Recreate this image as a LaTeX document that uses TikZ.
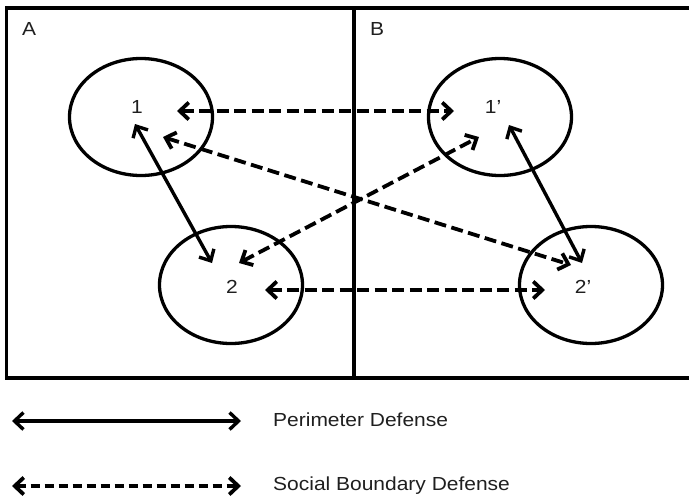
\documentclass[tikz,border=0pt]{standalone}
\usepackage{fontspec}
\usepackage{graphicx}
\setmainfont{Liberation Sans}
\usetikzlibrary{arrows.meta,shapes.geometric}
\newcommand{\wlabel}[1]{\scalebox{1.11}[1]{\fontsize{18.9}{20}\selectfont #1}}
\tikzset{
  frameline/.style={line width=3.3pt, line cap=rect},
  region/.style={ellipse, draw, line width=3.3pt, minimum width=143pt, minimum height=117pt, inner sep=0pt},
  txt/.style={inner sep=0pt, text=black!88},
  barb/.style={Straight Barb[length=9pt,width=17pt]},
  perim/.style={line width=3.4pt, {Straight Barb[length=9pt,width=17pt]}-{Straight Barb[length=9pt,width=17pt]}},
  social/.style={line width=3.8pt, dash pattern=on 12pt off 5.5pt, {Straight Barb[length=9pt,width=17pt]}-{Straight Barb[length=9pt,width=17pt]}},
}
\begin{document}
\begin{tikzpicture}[x=1pt,y=-1pt]
\useasboundingbox (0,0) rectangle (689,496);
% frame of the two territories
\draw[frameline] (700,8) -- (6.5,8) -- (6.5,378) -- (700,378);
\draw[frameline] (354,8) -- (354,378);
\node[txt] (la) at (29,29) {\wlabel{A}};
\node[txt] (lb) at (377,29) {\wlabel{B}};
% groups
\node[region] (c1) at (141,117) {};
\node[region] (c2) at (231,285) {};
\node[region] (c1p) at (500,117) {};
\node[region] (c2p) at (591,285) {};
\node[txt] (t1) at (137,106.5) {\wlabel{1}};
\node[txt] (t2) at (232,287) {\wlabel{2}};
\node[txt] (t1p) at (493,107) {\wlabel{1’}};
\node[txt] (t2p) at (583,287) {\wlabel{2’}};
% arrow end points
\coordinate (a1r) at (177,111);
\coordinate (a1pl) at (454,111);
\coordinate (a2r) at (265,290);
\coordinate (a2pl) at (545,290);
\coordinate (a1d) at (163,137);
\coordinate (a2pu) at (571,265);
\coordinate (a2u) at (239,263);
\coordinate (a1pd) at (479,137);
\coordinate (a1s) at (135,124);
\coordinate (a2s) at (212,263);
\coordinate (a1ps) at (509,125);
\coordinate (a2ps) at (582,263);
% social boundary defense
\draw[social] (a1r) -- (a1pl);
\draw[social] (a2r) -- (a2pl);
\draw[social] (a1d) -- (a2pu);
\draw[social] (a2u) -- (a1pd);
% perimeter defense
\draw[perim] (a1s) -- (a2s);
\draw[perim] (a1ps) -- (a2ps);
% legend
\coordinate (lg1a) at (12,421);
\coordinate (lg1b) at (241,421);
\coordinate (lg2a) at (12,486);
\coordinate (lg2b) at (241,486);
\draw[perim] (lg1a) -- (lg1b);
\draw[social, dash pattern=on 9pt off 5pt] (lg2a) -- (lg2b);
\node[txt, anchor=west] (lt1) at (273,420) {\wlabel{Perimeter Defense}};
\node[txt, anchor=west] (lt2) at (273,486) {\wlabel{Social Boundary Defense}};
\end{tikzpicture}
\end{document}
